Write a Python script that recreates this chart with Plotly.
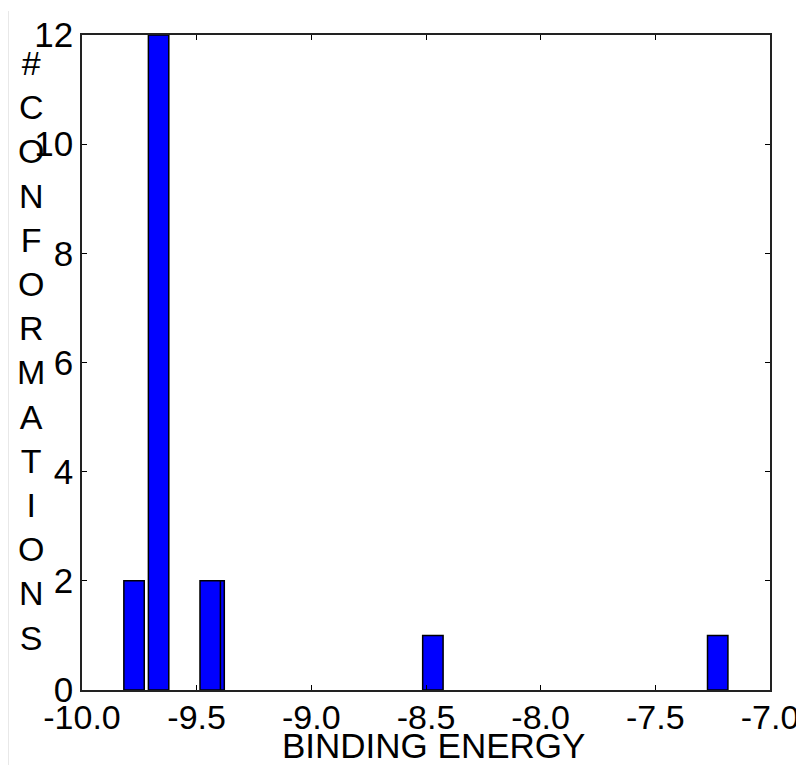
import plotly.graph_objects as go

# Data
energies = [-9.773, -9.666, -9.424, -9.441, -8.470, -7.228]
counts = [2, 12, 2, 2, 1, 1]
x_ticks = [-10.0, -9.5, -9.0, -8.5, -8.0, -7.5, -7.0]
x_tick_labels = ["-10.0", "-9.5", "-9.0", "-8.5", "-8.0", "-7.5", "-7.0"]
y_ticks = [0, 2, 4, 6, 8, 10, 12]
x_title = "BINDING ENERGY"
y_title = "# CONFORMATIONS"

fig = go.Figure()
fig.add_trace(go.Bar(
    x=energies, y=counts, width=0.089,
    marker=dict(color="#0000FF", line=dict(color="black", width=1.5)),
))

font_family = "Liberation Sans, Arial, sans-serif"
# The page body has an 8px margin, so the figure is offset by 8px.
fig.update_layout(
    width=804, height=765,
    margin=dict(l=74, r=42, t=27, b=83),
    paper_bgcolor="white", plot_bgcolor="white",
    showlegend=False,
    font=dict(family=font_family, color="black", size=34),
    xaxis=dict(
        range=[-10, -7], tickvals=x_ticks, ticktext=x_tick_labels,
        ticks="inside", ticklen=5, tickwidth=1, tickcolor="black",
        showline=True, linecolor="#222", linewidth=1.5, mirror="ticks",
        showgrid=False, zeroline=False, automargin=False,
        tickfont=dict(size=34), ticklabelstandoff=-4,
    ),
    yaxis=dict(
        range=[0, 12], tickvals=y_ticks,
        ticks="inside", ticklen=5, tickwidth=1, tickcolor="black",
        showline=True, linecolor="#222", linewidth=1.5, mirror="ticks",
        showgrid=False, zeroline=False, automargin=False,
        tickfont=dict(size=35),
    ),
)

fig.add_annotation(
    text=x_title,
    xref="paper", yref="paper", x=0.5116, y=-0.084,
    xanchor="center", yanchor="middle", showarrow=False,
    font=dict(size=35, family=font_family, color="black"),
)

fig.add_annotation(
    text="<br>".join(list(y_title.replace(" ", ""))),
    xref="paper", yref="paper", x=-0.074, y=0.5176,
    xanchor="center", yanchor="middle", showarrow=False,
    font=dict(size=34, family=font_family, color="black"),
)

fig.add_shape(type="line", xref="paper", yref="paper",
              x0=-0.1076, x1=-0.1076, y0=1.0366, y1=-0.1145,
              line=dict(color="#e8e8e8", width=2))

fig.write_html("out.html")
